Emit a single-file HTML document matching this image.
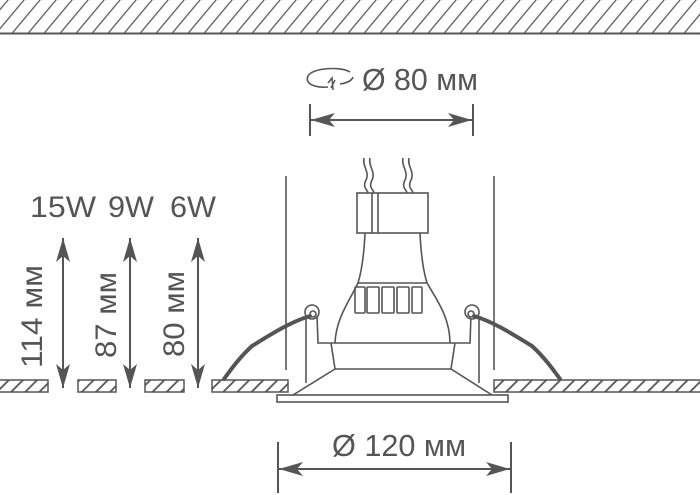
<!DOCTYPE html>
<html><head><meta charset="utf-8"><style>
html,body{margin:0;padding:0;background:#fff}
svg{display:block}
text{font-family:"Liberation Sans Narrow","Liberation Sans",sans-serif;fill:#555}
</style></head><body>
<svg width="700" height="495" viewBox="0 0 700 495" xmlns="http://www.w3.org/2000/svg">
<defs>
<pattern id="h" patternUnits="userSpaceOnUse" width="16" height="40" patternTransform="skewX(-40)">
<rect width="16" height="40" fill="#fff"/><line x1="8" y1="0" x2="8" y2="40" stroke="#555" stroke-width="1.6"/>
</pattern>
<pattern id="h2" patternUnits="userSpaceOnUse" width="10" height="10" patternTransform="rotate(45)">
<rect width="10" height="10" fill="#fff"/><line x1="5" y1="0" x2="5" y2="10" stroke="#555" stroke-width="1.8"/>
</pattern>
<marker id="a" viewBox="0 0 24 14" refX="24" refY="7" markerWidth="24" markerHeight="14" markerUnits="userSpaceOnUse" orient="auto-start-reverse">
<path d="M0,0 L24,7 L0,14 L6,7 Z" fill="#555"/></marker>
</defs>
<rect x="0" y="0" width="700" height="33" fill="url(#h)"/>
<line x1="0" y1="33.5" x2="700" y2="33.5" stroke="#555" stroke-width="2"/>
<g stroke="#555" stroke-width="1.5">
<rect x="-2" y="380" width="50" height="12" fill="url(#h2)"/>
<rect x="78" y="380" width="38" height="12" fill="url(#h2)"/>
<rect x="145" y="380" width="39" height="12" fill="url(#h2)"/>
<rect x="212" y="380" width="76" height="12" fill="url(#h2)"/>
<rect x="494" y="380" width="210" height="12" fill="url(#h2)"/>
</g>
<g stroke="#555" stroke-width="2" fill="none">
<line x1="63" y1="238" x2="63" y2="388" marker-start="url(#a)" marker-end="url(#a)"/>
<line x1="130" y1="238" x2="130" y2="388" marker-start="url(#a)" marker-end="url(#a)"/>
<line x1="198" y1="238" x2="198" y2="388" marker-start="url(#a)" marker-end="url(#a)"/>
</g>
<text x="30" y="217" font-size="30" textLength="66" lengthAdjust="spacingAndGlyphs">15W</text>
<text x="108" y="217" font-size="30" textLength="46" lengthAdjust="spacingAndGlyphs">9W</text>
<text x="170" y="217" font-size="30" textLength="46" lengthAdjust="spacingAndGlyphs">6W</text>
<text transform="translate(42,368) rotate(-90)" font-size="30" textLength="103" lengthAdjust="spacingAndGlyphs">114 мм</text>
<text transform="translate(116,358) rotate(-90)" font-size="30" textLength="86" lengthAdjust="spacingAndGlyphs">87 мм</text>
<text transform="translate(184,357) rotate(-90)" font-size="30" textLength="86" lengthAdjust="spacingAndGlyphs">80 мм</text>
<g stroke="#555" stroke-width="2" fill="none">
<line x1="310" y1="104" x2="310" y2="136"/><line x1="473" y1="104" x2="473" y2="136"/>
<line x1="311" y1="120" x2="472" y2="120" marker-start="url(#a)" marker-end="url(#a)"/>
<path d="M350,72 C340,66 312,68 308,76 C304,85 318,88 328,87" stroke-width="1.6"/>
<path d="M340,84 C348,83 352,80 353,77" stroke-width="1.6"/>
<path d="M333,90 L332,78 L328,83 M335,80 L331,88" stroke-width="1.5"/>
</g>
<text x="362" y="90" font-size="31" textLength="116" lengthAdjust="spacingAndGlyphs">Ø 80 мм</text>
<g stroke="#555" stroke-width="2" fill="none">
<line x1="278" y1="442" x2="278" y2="493"/><line x1="511" y1="442" x2="511" y2="493"/>
<line x1="279" y1="469" x2="510" y2="469" marker-start="url(#a)" marker-end="url(#a)"/>
</g>
<text x="332" y="456" font-size="31" textLength="134" lengthAdjust="spacingAndGlyphs">Ø 120 мм</text>
<g stroke="#555" stroke-width="1.6" fill="none">
<line x1="286" y1="176" x2="286" y2="370"/><line x1="494" y1="176" x2="494" y2="370"/>
<path d="M364,158 C362,166 370,172 366,180 C362,188 368,190 368,193"/>
<path d="M370,158 C368,166 376,172 372,180 C368,188 374,190 374,193"/>
<path d="M403,158 C401,166 409,172 405,180 C401,188 407,190 407,193"/>
<path d="M409,158 C407,166 415,172 411,180 C407,188 413,190 413,193"/>
<rect x="357" y="193" width="71" height="40" fill="#fff"/>
<line x1="372" y1="193" x2="372" y2="233"/><line x1="378" y1="193" x2="378" y2="233"/>
<path d="M365,233 C364,255 362,270 358,283 C350,300 336,318 335,343"/>
<path d="M420,233 C421,255 423,270 427,283 C437,300 450,318 450,343"/>
<line x1="358" y1="283" x2="427" y2="283"/>
<rect x="355" y="287" width="10" height="26" rx="1"/>
<rect x="367" y="287" width="12" height="26" rx="1"/>
<rect x="382" y="287" width="12" height="26" rx="1"/>
<rect x="397" y="287" width="12" height="26" rx="1"/>
<rect x="412" y="287" width="10" height="26" rx="1"/>
<path d="M317,315 L318,343 L470,343 L471,315"/>
<line x1="306" y1="318" x2="306" y2="383"/><line x1="479" y1="318" x2="479" y2="383"/>
<path d="M331,343 L335,369 L451,369 L455,343"/>
<path d="M335,369 L293,395 M451,369 L492,395"/>
<rect x="277" y="395" width="231" height="7" fill="#fff"/>
<circle cx="312" cy="312" r="7" fill="#fff"/><circle cx="472" cy="312" r="7" fill="#fff"/>
<circle cx="313" cy="314" r="3"/><circle cx="471" cy="314" r="3"/>
</g>
<g stroke="#555" stroke-width="4" fill="none" stroke-linecap="round">
<path d="M310,316 C290,322 270,335 252,346 C240,357 232,368 224,379"/>
<path d="M474,316 C494,322 514,335 532,346 C544,357 552,368 560,379"/>
</g>
</svg>
</body></html>
